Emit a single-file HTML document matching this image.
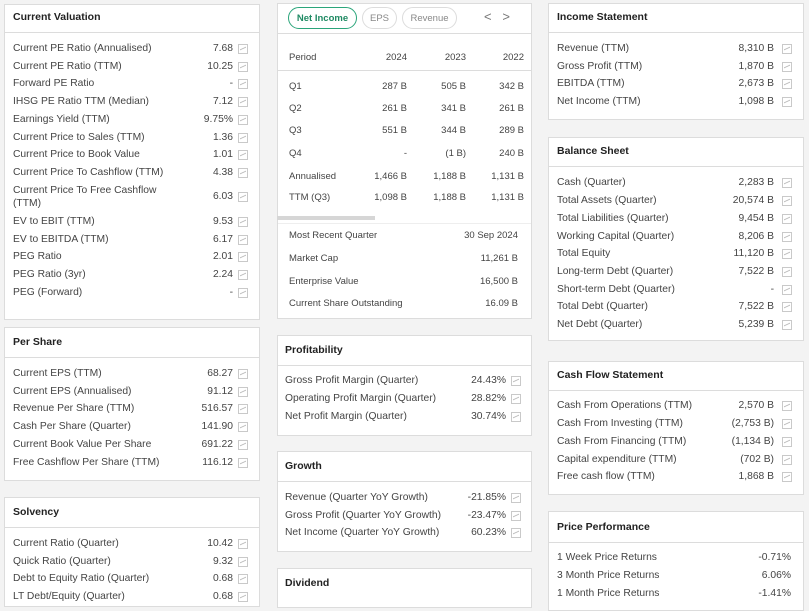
<!DOCTYPE html>
<html><head><meta charset="utf-8"><style>
body{margin:0;width:809px;height:598px;overflow:hidden;background:#f3f3f3;font-family:"Liberation Sans",sans-serif;color:#444;position:relative}
.c{position:absolute;background:#fff;border:1px solid #dcdcdc;box-sizing:border-box}
.h{position:absolute;left:0;right:0;border-bottom:1px solid #dcdcdc}
.t{position:absolute;font-size:10.5px;font-weight:bold;color:#222}
.r{position:absolute;font-size:10.3px;line-height:14px;height:14px;white-space:nowrap}
.r b{font-weight:normal;position:absolute;right:0;top:0}
.i{position:absolute;width:10px;height:10px;border:1px solid #c9c9c9;box-sizing:border-box}
.i:after{content:"";position:absolute;left:1px;top:3px;width:6px;height:3px;border-top:1px solid #bbb;transform:skewY(-25deg)}
.m{position:absolute;font-size:9.5px;line-height:12px;white-space:nowrap}
.tab{position:absolute;top:7px;height:22px;border:1px solid #dcdcdc;border-radius:11px;box-sizing:border-box;font-size:9.5px;line-height:21px;text-align:center;color:#888}
</style></head><body>

<!-- Left column -->
<div class="c" style="left:4px;top:4px;width:256px;height:316px"></div>
<div class="h" style="left:5px;right:auto;width:254px;top:32px"></div>
<div class="t" style="left:13px;top:11px">Current Valuation</div>

<div class="c" style="left:4px;top:327px;width:256px;height:154px"></div>
<div class="h" style="left:5px;right:auto;width:254px;top:357px"></div>
<div class="t" style="left:13px;top:336px">Per Share</div>

<div class="c" style="left:4px;top:497px;width:256px;height:110px"></div>
<div class="h" style="left:5px;right:auto;width:254px;top:527px"></div>
<div class="t" style="left:13px;top:506px">Solvency</div>

<!-- Middle -->
<div class="c" style="left:277px;top:3px;width:255px;height:316px"></div>
<div class="h" style="left:278px;right:auto;width:253px;top:33px"></div>
<div class="tab" style="left:288px;width:69px;border-color:#2aa57a;color:#1f8a63;font-weight:bold">Net Income</div>
<div class="tab" style="left:362px;width:35px">EPS</div>
<div class="tab" style="left:402px;width:55px">Revenue</div>
<div style="position:absolute;left:484px;top:9px;font-size:13px;color:#777">&lt;&nbsp;&nbsp;&nbsp;&gt;</div>
<div class="h" style="left:278px;right:auto;width:253px;top:70px"></div>
<div class="m" style="left:289px;top:52px">Period</div>
<div class="m" style="left:340px;width:67px;text-align:right;top:52px">2024</div>
<div class="m" style="left:400px;width:66px;text-align:right;top:52px">2023</div>
<div class="m" style="left:460px;width:64px;text-align:right;top:52px">2022</div>
<div style="position:absolute;left:277px;top:216px;width:98px;height:4px;background:#d6d6d6"></div>
<div class="h" style="left:278px;right:auto;width:253px;top:223px;border-color:#eee"></div>

<div class="c" style="left:277px;top:335px;width:255px;height:101px"></div>
<div class="h" style="left:278px;right:auto;width:253px;top:365px"></div>
<div class="t" style="left:285px;top:344px">Profitability</div>

<div class="c" style="left:277px;top:451px;width:255px;height:101px"></div>
<div class="h" style="left:278px;right:auto;width:253px;top:481px"></div>
<div class="t" style="left:285px;top:460px">Growth</div>

<div class="c" style="left:277px;top:568px;width:255px;height:40px"></div>
<div class="t" style="left:285px;top:577px">Dividend</div>

<!-- Right -->
<div class="c" style="left:548px;top:3px;width:256px;height:117px"></div>
<div class="h" style="left:549px;right:auto;width:254px;top:32px"></div>
<div class="t" style="left:557px;top:11px">Income Statement</div>

<div class="c" style="left:548px;top:137px;width:256px;height:204px"></div>
<div class="h" style="left:549px;right:auto;width:254px;top:166px"></div>
<div class="t" style="left:557px;top:145px">Balance Sheet</div>

<div class="c" style="left:548px;top:361px;width:256px;height:134px"></div>
<div class="h" style="left:549px;right:auto;width:254px;top:390px"></div>
<div class="t" style="left:557px;top:369px">Cash Flow Statement</div>

<div class="c" style="left:548px;top:511px;width:256px;height:100px"></div>
<div class="h" style="left:549px;right:auto;width:254px;top:542px"></div>
<div class="t" style="left:557px;top:521px">Price Performance</div>

<div id="rows"></div>
<script>
var out="";
function row(x,w,ix,y,l,v,icon){
 out+='<div class="r" style="left:'+x+'px;width:'+w+'px;top:'+(y-7)+'px">'+l+'<b>'+v+'</b></div>';
 if(icon)out+='<div class="i" style="left:'+ix+'px;top:'+(y-5)+'px"></div>';
}
var L=[[49,"Current PE Ratio (Annualised)","7.68"],[67,"Current PE Ratio (TTM)","10.25"],[84,"Forward PE Ratio","-"],[102,"IHSG PE Ratio TTM (Median)","7.12"],[120,"Earnings Yield (TTM)","9.75%"],[138,"Current Price to Sales (TTM)","1.36"],[155,"Current Price to Book Value","1.01"],[173,"Current Price To Cashflow (TTM)","4.38"],[197,"","6.03"],[222,"EV to EBIT (TTM)","9.53"],[240,"EV to EBITDA (TTM)","6.17"],[257,"PEG Ratio","2.01"],[275,"PEG Ratio (3yr)","2.24"],[293,"PEG (Forward)","-"],
[374,"Current EPS (TTM)","68.27"],[392,"Current EPS (Annualised)","91.12"],[409,"Revenue Per Share (TTM)","516.57"],[427,"Cash Per Share (Quarter)","141.90"],[445,"Current Book Value Per Share","691.22"],[463,"Free Cashflow Per Share (TTM)","116.12"],
[544,"Current Ratio (Quarter)","10.42"],[562,"Quick Ratio (Quarter)","9.32"],[579,"Debt to Equity Ratio (Quarter)","0.68"],[597,"LT Debt/Equity (Quarter)","0.68"]];
L.forEach(function(a){row(13,220,238,a[0],a[1],a[2],1)});
out+='<div class="r" style="left:13px;top:184px">Current Price To Free Cashflow</div><div class="r" style="left:13px;top:197px">(TTM)</div>';
var M=[[381,"Gross Profit Margin (Quarter)","24.43%"],[399,"Operating Profit Margin (Quarter)","28.82%"],[417,"Net Profit Margin (Quarter)","30.74%"],[498,"Revenue (Quarter YoY Growth)","-21.85%"],[516,"Gross Profit (Quarter YoY Growth)","-23.47%"],[533,"Net Income (Quarter YoY Growth)","60.23%"]];
M.forEach(function(a){row(285,221,511,a[0],a[1],a[2],1)});
var R=[[49,"Revenue (TTM)","8,310 B"],[67,"Gross Profit (TTM)","1,870 B"],[84,"EBITDA (TTM)","2,673 B"],[102,"Net Income (TTM)","1,098 B"],
[183,"Cash (Quarter)","2,283 B"],[201,"Total Assets (Quarter)","20,574 B"],[219,"Total Liabilities (Quarter)","9,454 B"],[237,"Working Capital (Quarter)","8,206 B"],[254,"Total Equity","11,120 B"],[272,"Long-term Debt (Quarter)","7,522 B"],[290,"Short-term Debt (Quarter)","-"],[307,"Total Debt (Quarter)","7,522 B"],[325,"Net Debt (Quarter)","5,239 B"],
[406,"Cash From Operations (TTM)","2,570 B"],[424,"Cash From Investing (TTM)","(2,753 B)"],[442,"Cash From Financing (TTM)","(1,134 B)"],[460,"Capital expenditure (TTM)","(702 B)"],[477,"Free cash flow (TTM)","1,868 B"]];
R.forEach(function(a){row(557,217,782,a[0],a[1],a[2],1)});
[[558,"1 Week Price Returns","-0.71%"],[576,"3 Month Price Returns","6.06%"],[594,"1 Month Price Returns","-1.41%"]].forEach(function(a){row(557,234,0,a[0],a[1],a[2],0)});
var T=[[87,"Q1","287 B","505 B","342 B"],[109,"Q2","261 B","341 B","261 B"],[131,"Q3","551 B","344 B","289 B"],[154,"Q4","-","(1 B)","240 B"],[177,"Annualised","1,466 B","1,188 B","1,131 B"],[198,"TTM (Q3)","1,098 B","1,188 B","1,131 B"]];
T.forEach(function(a){var y=a[0]-6;
 out+='<div class="m" style="left:289px;top:'+y+'px">'+a[1]+'</div>';
 out+='<div class="m" style="left:340px;width:67px;text-align:right;top:'+y+'px">'+a[2]+'</div>';
 out+='<div class="m" style="left:400px;width:66px;text-align:right;top:'+y+'px">'+a[3]+'</div>';
 out+='<div class="m" style="left:460px;width:64px;text-align:right;top:'+y+'px">'+a[4]+'</div>';});
[[236,"Most Recent Quarter","30 Sep 2024"],[259,"Market Cap","11,261 B"],[282,"Enterprise Value","16,500 B"],[304,"Current Share Outstanding","16.09 B"]].forEach(function(a){var y=a[0]-6;
 out+='<div class="m" style="left:289px;top:'+y+'px">'+a[1]+'</div><div class="m" style="left:400px;width:118px;text-align:right;top:'+y+'px">'+a[2]+'</div>';});
document.getElementById("rows").innerHTML=out;
</script>
</body></html>
